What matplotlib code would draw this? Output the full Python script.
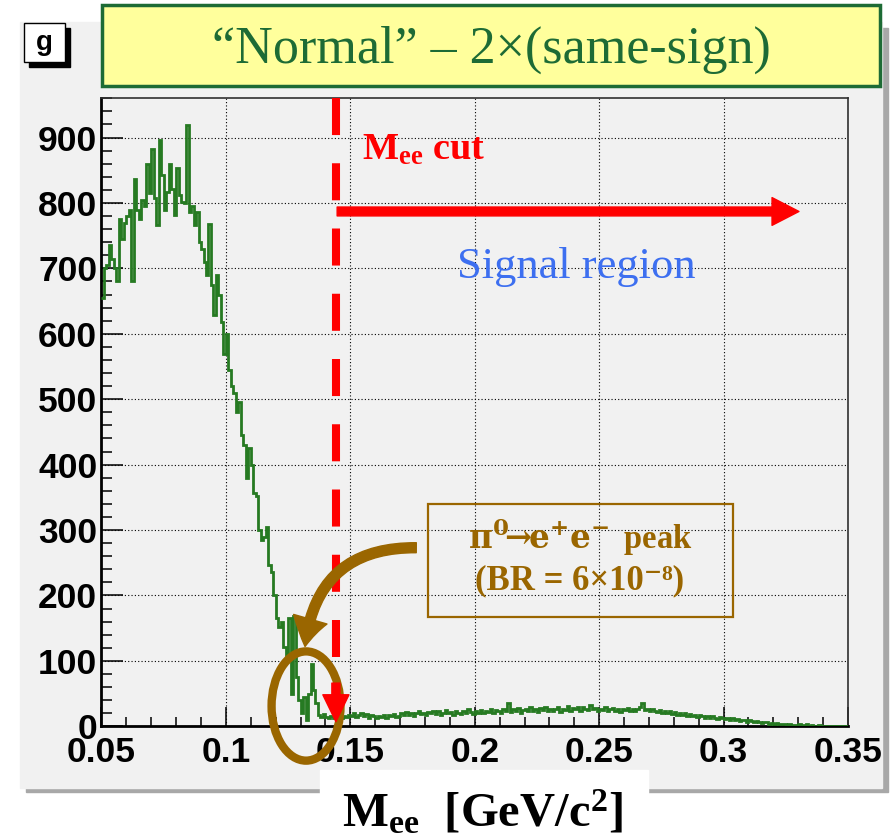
import numpy as np
import matplotlib
matplotlib.use('Agg')
import matplotlib.pyplot as plt
from matplotlib.patches import Rectangle, Ellipse

plt.rcParams['mathtext.fontset'] = 'custom'
plt.rcParams['mathtext.rm'] = 'Liberation Serif:bold'
plt.rcParams['mathtext.it'] = 'Liberation Serif:italic:bold'
plt.rcParams['mathtext.bf'] = 'Liberation Serif:bold'

# histogram of M_ee, 1 MeV bins from 0.05 to 0.35 GeV
x_lo, x_hi, n_bins = 0.05, 0.35, 300
counts_050 = [655, 700, 705, 735, 715, 700, 680, 775, 745, 770,
              780, 790, 680, 837, 790, 775, 805, 796, 860, 815,
              883, 807, 766, 896, 842, 790, 817, 860, 822, 781,
              853, 812, 802, 800, 919, 786, 796, 766, 786, 740,
              730, 710, 690, 768, 674, 628, 690, 659, 618, 569]
counts_100 = [600, 545, 520, 510, 480, 495, 445, 430, 380, 425,
              400, 356, 352, 300, 285, 290, 305, 246, 236, 200,
              165, 152, 160, 121, 100, 165, 50, 168, 75, 40,
              20, 45, 10, 50, 95, 55, 35, 18, 14, 19,
              14, 12, 16, 13, 15, 17, 12, 16, 14, 18]
counts_150 = [16, 20, 14, 18, 21, 15, 19, 13, 17, 15,
              12, 16, 14, 18, 13, 17, 15, 19, 14, 16,
              20, 17, 22, 18, 21, 16, 20, 23, 19, 21,
              18, 22, 20, 24, 19, 23, 17, 21, 25, 20,
              22, 18, 24, 21, 19, 23, 20, 26, 22, 19,
              23, 21, 25, 20, 24, 22, 27, 21, 25, 23,
              20, 26, 24, 35, 22, 26, 23, 28, 21, 25,
              27, 23, 29, 24, 26, 22, 28, 25, 30, 23,
              27, 24, 26, 29, 22, 27, 25, 31, 24, 28,
              26, 29, 24, 30, 27, 25, 32, 26, 28, 24]
counts_250 = [27, 25, 29, 23, 26, 28, 24, 27, 22, 26,
              25, 28, 23, 27, 24, 26, 29, 35, 25, 27,
              23, 26, 24, 22, 25, 21, 24, 20, 23, 19,
              22, 18, 21, 17, 20, 16, 19, 15, 18, 14,
              17, 15, 13, 16, 12, 15, 13, 11, 14, 12,
              11, 13, 10, 12, 9, 11, 8, 10, 9, 7,
              9, 8, 6, 8, 7, 5, 7, 6, 4, 5,
              4, 5, 3, 4, 3, 2, 3, 2, 2, 1,
              3, 2, 2, 3, 1, 2, 1, 1, 2, 1,
              0, 1, 0, 0, 0, 0, 0, 0, 0, 0]
counts = np.array(counts_050 + counts_100 + counts_150 + counts_250)
edges = np.linspace(x_lo, x_hi, n_bins + 1)

mee_cut = 0.1442
y_max = 960

W, H = 895, 839
def fx(x):
    return x / W
def fy(y):
    return 1 - y / H

fig = plt.figure(figsize=(W / 100, H / 100), dpi=100)
fig.patch.set_facecolor('white')

# grey canvas with shadow
fig.patches.append(Rectangle((fx(26), fy(792)), fx(888) - fx(26), (792 - 28) / H,
                             transform=fig.transFigure, color='#a8a8a8', zorder=-3))
fig.patches.append(Rectangle((fx(20), fy(788)), fx(882) - fx(20), (788 - 22) / H,
                             transform=fig.transFigure, color='#f1f1f1', zorder=-2))

ax = fig.add_axes([fx(101.5), fy(726.3), fx(848) - fx(101.5), (726.3 - 98.3) / H])
ax.set_facecolor('#f1f1f1')

ax.stairs(counts, edges, baseline=None, color='#267a22', lw=2.0, zorder=3)

ax.set_xlim(x_lo, x_hi)
ax.set_ylim(0, y_max)
ax.set_xticks(np.arange(0.05, 0.351, 0.05))
ax.set_xticklabels(['0.05', '0.1', '0.15', '0.2', '0.25', '0.3', '0.35'])
ax.set_xticks(np.arange(0.05, 0.351, 0.01), minor=True)
ax.set_yticks(np.arange(0, 901, 100))
ax.set_yticks(np.arange(0, 961, 20), minor=True)
ax.grid(True, which='major', color='black', lw=0.8, linestyle=(0, (1, 2)))
ax.tick_params(axis='x', which='major', direction='in', length=13.5, width=1.1, pad=7)
ax.tick_params(axis='x', which='minor', direction='in', length=6.8, width=1.1)
ax.tick_params(axis='y', which='major', direction='in', length=15.8, width=1.1, pad=3)
ax.tick_params(axis='y', which='minor', direction='in', length=8.0, width=1.1)
for lab in ax.get_xticklabels() + ax.get_yticklabels():
    lab.set_fontfamily('Liberation Sans')
    lab.set_fontweight('bold')
    lab.set_fontsize(25.5)
ax.spines['left'].set_linewidth(2)
ax.spines['bottom'].set_linewidth(2)
ax.spines['top'].set_linewidth(1.2)
ax.spines['right'].set_linewidth(1.2)
ax.spines['top'].set_color('#303030')
ax.spines['right'].set_color('#303030')

# cut line and arrows
ax.plot([mee_cut, mee_cut], [y_max, 106], color='red', lw=5.8,
        linestyle=(0, (4.6, 3.5)), dash_capstyle='butt', zorder=4)
ax.annotate('', xy=(mee_cut, 7), xytext=(mee_cut, 66),
            arrowprops=dict(arrowstyle='simple,head_length=0.97,head_width=0.94,tail_width=0.29',
                            mutation_scale=20, color='red', shrinkA=0, shrinkB=0), zorder=8)
ax.annotate('', xy=(0.3303, 787), xytext=(0.1447, 787),
            arrowprops=dict(arrowstyle='simple,head_length=0.97,head_width=1.0,tail_width=0.32',
                            mutation_scale=20, color='red', shrinkA=0, shrinkB=0), zorder=5)
ax.text(0.1547, 866, r'M$_{\rm ee}$ cut', color='red', fontsize=27.5, fontweight='bold',
        fontfamily='Liberation Serif', va='baseline', ha='left', zorder=6)
ax.text(0.2407, 686, 'Signal region', color='#3d6ff0', fontsize=32,
        fontfamily='Liberation Serif', va='baseline', ha='center', zorder=6)

# pi0 -> ee annotation
brown = '#9a6600'
ax.add_patch(Rectangle((0.1812, 167), 0.3038 - 0.1812, 340 - 167, fill=False,
                       edgecolor=brown, lw=1.6, zorder=6))
ax.text(0.2423, 271, r'$\mathbf{\pi^0\!\!\rightarrow\!\!e^{\!+}\!e^{\!-}}$ peak', color=brown,
        fontsize=23.5, fontweight='bold', fontfamily='Liberation Serif',
        math_fontfamily='dejavuserif', va='baseline', ha='center', zorder=6)
ax.text(0.2423, 209, '(BR = 6×10⁻⁸)', color=brown, fontsize=25, fontweight='bold',
        family=['Liberation Serif', 'DejaVu Serif'], va='baseline', ha='center', zorder=6)
ax.add_patch(Ellipse((0.1322, 31), 0.0277, 167, fill=False, edgecolor=brown,
                     lw=6.0, clip_on=False, zorder=7))
ax.annotate('', xy=(0.1318, 122), xytext=(0.1765, 273),
            arrowprops=dict(arrowstyle='simple,head_length=1.0,head_width=1.25,tail_width=0.36',
                            mutation_scale=20, color=brown, shrinkA=0, shrinkB=0,
                            connectionstyle='arc3,rad=0.45'), zorder=7)

# title box
fig.patches.append(Rectangle((fx(102), fy(86)), fx(880) - fx(102), (86 - 5) / H,
                             transform=fig.transFigure, facecolor='#ffff9c',
                             edgecolor='#1d6b35', lw=2.5, zorder=2))
fig.text(fx(491), fy(63), '“Normal” – 2×(same-sign)', color='#1d6b35', fontsize=37.5,
         fontfamily='Liberation Serif', ha='center', va='baseline', zorder=3)

# pad label
fig.patches.append(Rectangle((fx(29), fy(67)), fx(70) - fx(29), (67 - 28) / H,
                             transform=fig.transFigure, color='black', zorder=2))
fig.patches.append(Rectangle((fx(24), fy(62)), fx(65) - fx(24), (62 - 23) / H,
                             transform=fig.transFigure, facecolor='white',
                             edgecolor='black', lw=1, zorder=3))
fig.text(fx(44.5), fy(43), 'g', fontsize=20, fontweight='bold', fontfamily='Liberation Sans',
         ha='center', va='center', zorder=4)

# x axis title
fig.patches.append(Rectangle((fx(320), fy(839)), fx(648) - fx(320), (839 - 770) / H,
                             transform=fig.transFigure, color='white', zorder=2))
fig.text(fx(482), fy(826), r'M$_{\rm ee}$  [GeV/c$^{\rm 2}$]', fontsize=35, fontweight='bold',
         fontfamily='Liberation Serif', ha='center', va='baseline', zorder=3)

fig.savefig('out.png', dpi=100)
